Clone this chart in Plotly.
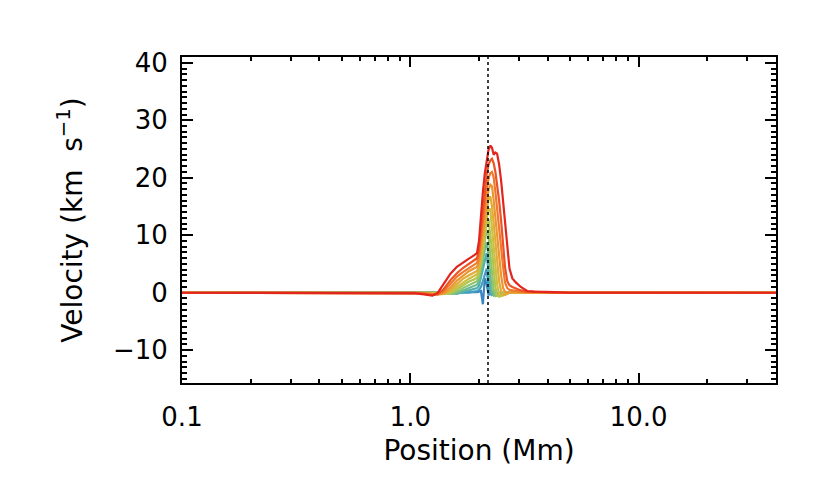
import plotly.graph_objects as go

# Position grid (Mm) shared by all profiles
position = [0.1, 0.9, 1.05, 1.15, 1.25, 1.32, 1.4, 1.5, 1.6, 1.7, 1.8, 1.9, 1.96,
            2.0, 2.04, 2.08, 2.12, 2.16, 2.20, 2.24, 2.28, 2.32, 2.36, 2.40, 2.45,
            2.50, 2.55, 2.60, 2.66, 2.72, 2.80, 2.90, 3.05, 3.25, 3.5, 3.8, 4.3, 5.0, 40]

# Velocity profiles (km/s), earliest (blue) to latest (red)
v01 = [0, 0, 0, 0, 0, 0, 0, 0, 0, 0, 0, 0, 0.1,
       0.2, 0.3, -2.0, 2.5, 1.5, -0.3, -0.2, 0, 0, 0, 0, 0,
       0, 0, 0, 0, 0, 0, 0, 0, 0, 0, 0, 0, 0, 0]
v02 = [0, 0, 0, 0, 0, 0, 0, 0, 0, -0.1, 0, 0.2, 0.3,
       0.5, 1.0, 2.0, 3.0, 4.2, 1.0, -0.3, -0.3, -0.1, 0, 0, 0,
       -0.1, -0.2, -0.2, -0.1, 0, 0, 0, 0, 0, 0, 0, 0, 0, 0]
v03 = [0, 0, 0, 0, 0, 0, 0, 0, -0.2, 0.1, 0.4, 0.7, 0.8,
       1.2, 2.5, 4.0, 5.5, 6.9, 3.5, 0.5, -0.4, -0.3, -0.1, 0, 0,
       0, 0, 0, 0, 0, 0, 0, 0, 0, 0, 0, 0, 0, 0]
v04 = [0, 0, 0, 0, 0, 0, 0, -0.2, -0.1, 0.4, 0.8, 1.2, 1.4,
       2.0, 3.5, 5.5, 7.5, 8.8, 6.5, 3.0, 0.2, -0.5, -0.4, -0.1, 0,
       0, 0, 0, 0, 0, 0, 0, 0, 0, 0, 0, 0, 0, 0]
v05 = [0, 0, 0, 0, 0, 0, 0, -0.2, 0.2, 0.8, 1.3, 1.8, 2.0,
       2.8, 4.5, 6.5, 9.0, 10.8, 10.0, 7.0, 3.5, 0.5, -0.6, -0.5, -0.2,
       0, 0, 0, 0, 0, 0, 0, 0, 0, 0, 0, 0, 0, 0]
v06 = [0, 0, 0, 0, 0, 0, -0.2, -0.1, 0.6, 1.3, 1.9, 2.3, 2.6,
       3.4, 5.0, 7.5, 10.0, 12.0, 12.8, 10.5, 7.5, 4.0, 1.0, -0.5, -0.7,
       -0.4, -0.1, 0, 0, 0, 0, 0, 0, 0, 0, 0, 0, 0, 0]
v07 = [0, 0, 0, 0, 0, 0, -0.2, 0.2, 1.0, 1.8, 2.4, 2.9, 3.2,
       4.0, 6.0, 8.5, 11.0, 13.0, 14.6, 14.5, 11.5, 8.5, 5.0, 1.5, -0.3,
       -0.6, -0.5, -0.2, 0, 0, 0, 0, 0, 0, 0, 0, 0, 0, 0]
v08 = [0, 0, 0, 0, -0.1, -0.3, -0.2, 0.5, 1.5, 2.4, 3.0, 3.5, 3.8,
       4.6, 7.0, 9.5, 12.0, 14.5, 16.2, 16.8, 15.0, 12.0, 9.0, 5.5, 2.0,
       0.3, -0.3, -0.4, -0.2, 0, 0, 0, 0, 0, 0, 0, 0, 0, 0]
v09 = [0, 0, 0, 0, -0.2, -0.3, -0.1, 0.9, 2.1, 3.0, 3.7, 4.2, 4.5,
       5.5, 8.0, 11.0, 13.5, 16.0, 17.8, 18.8, 18.5, 16.0, 13.0, 10.5, 7.0,
       3.0, 0.8, 0.2, 0, 0.1, 0.1, 0.1, 0, 0, 0, 0, 0, 0, 0]
v10 = [0, 0, 0, -0.1, -0.3, -0.3, 0.2, 1.5, 2.8, 3.6, 4.3, 4.9, 5.2,
       6.5, 9.5, 12.5, 15.5, 18.0, 19.8, 20.8, 21.0, 20.0, 17.5, 14.5, 11.5,
       8.5, 4.5, 1.8, 0.8, 0.5, 0.4, 0.3, 0.2, 0.1, 0.1, 0, 0, 0, 0]
v11 = [0, 0, 0, -0.2, -0.4, -0.2, 0.6, 2.2, 3.4, 4.3, 5.0, 5.6, 6.0,
       7.5, 11.0, 14.5, 18.0, 20.5, 22.2, 23.0, 23.3, 22.5, 21.0, 19.0, 16.0,
       12.5, 8.5, 4.5, 2.0, 1.3, 1.0, 0.7, 0.4, 0.2, 0.1, 0.1, 0, 0, 0]
v12 = [0, 0, -0.1, -0.3, -0.5, 0.0, 1.5, 3.3, 4.5, 5.3, 5.9, 6.5, 6.9,
       9.0, 14.0, 17.5, 20.7, 23.2, 24.8, 25.6, 25.2, 24.0, 24.4, 24.2, 22.3,
       19.5, 16.0, 12.5, 8.0, 4.2, 2.5, 1.8, 1.0, 0.3, 0.2, 0.2, 0.1, 0, 0]

profiles = [v01, v02, v03, v04, v05, v06, v07, v08, v09, v10, v11, v12]
colors = ["#3a86c4", "#429cc0", "#4eaeb0", "#6cba92", "#8ec46c", "#b0c650",
          "#ccbf42", "#deae38", "#eb9632", "#f0792c", "#ec5424", "#e2261e"]

marker_pos = 2.19  # dotted reference position (Mm)

fig = go.Figure()
for v, c in zip(profiles, colors):
    fig.add_trace(go.Scatter(x=position, y=v, mode="lines",
                             line=dict(color=c, width=2.2), showlegend=False))

fig.add_shape(type="line", xref="x", yref="paper", x0=marker_pos, x1=marker_pos,
              y0=0, y1=1, line=dict(color="black", width=1.5, dash="dot"))

axis_font = dict(family="DejaVu Sans", size=26, color="black")
title_font = dict(family="DejaVu Sans", size=28, color="black")

fig.update_xaxes(type="log", range=[-1, 1.60206], showgrid=False, zeroline=False,
                 showline=True, linecolor="black", linewidth=2, mirror="allticks",
                 layer="below traces",
                 ticks="inside", ticklen=10, tickwidth=1.5, tickcolor="black",
                 tickvals=[0.1, 1, 10], ticktext=["0.1", "1.0", "10.0"],
                 tickfont=axis_font, ticklabelstandoff=10,
                 minor=dict(ticks="inside", ticklen=4, tickwidth=1.5, tickcolor="black",
                            tickvals=[0.2, 0.3, 0.4, 0.5, 0.6, 0.7, 0.8, 0.9,
                                      2, 3, 4, 5, 6, 7, 8, 9, 20, 30], showgrid=False),
                 title=dict(text="Position (Mm)", font=title_font, standoff=9))

fig.update_yaxes(range=[-15.7, 41.0], showgrid=False, zeroline=False,
                 showline=True, linecolor="black", linewidth=2, mirror="allticks",
                 layer="below traces",
                 ticks="inside", ticklen=11, tickwidth=1.5, tickcolor="black",
                 tickvals=[-10, 0, 10, 20, 30, 40], tickfont=axis_font,
                 ticklabelstandoff=7,
                 minor=dict(ticks="inside", ticklen=5, tickwidth=1.5, tickcolor="black",
                            dtick=1, showgrid=False),
                 title=dict(text="Velocity (km  s<sup>−1</sup>)", font=title_font,
                            standoff=22))

# page body adds an 8px offset, so margins are shifted to compensate
fig.update_layout(width=830, height=498, plot_bgcolor="white", paper_bgcolor="white",
                  margin=dict(l=174, r=62, t=49, b=123))

fig.write_html("out.html")
